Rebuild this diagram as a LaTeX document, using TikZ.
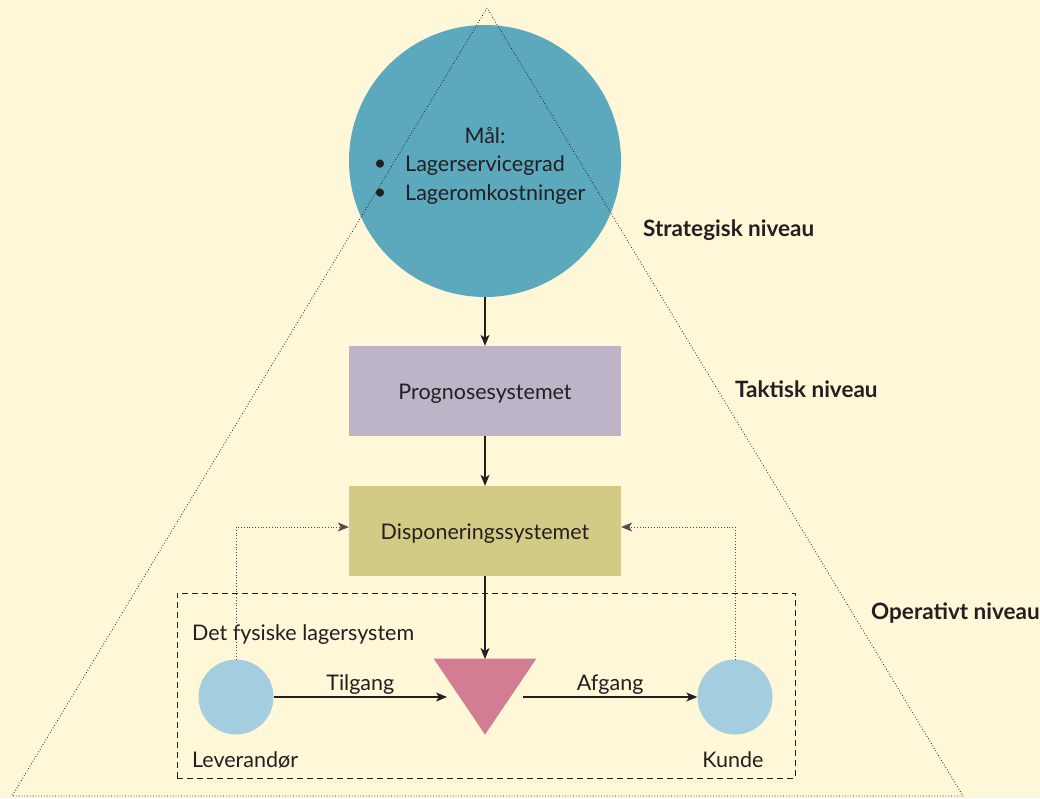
\documentclass[tikz,border=0pt]{standalone}
\usepackage{fontspec}
\setmainfont{Lato}
\usetikzlibrary{arrows.meta,shapes.geometric}
\definecolor{bgc}{HTML}{FEF7D8}
\definecolor{bigc}{HTML}{5CA8BC}
\definecolor{progc}{HTML}{BEB4C8}
\definecolor{dispc}{HTML}{D3CB85}
\definecolor{pinkc}{HTML}{D37D92}
\definecolor{smallc}{HTML}{A5CDE0}
\definecolor{txt}{HTML}{231F20}
\begin{document}
\begin{tikzpicture}[x=1pt,y=-1pt,
  lbl/.style={text=txt,font=\fontsize{21.5}{24}\selectfont,inner sep=0pt,yshift=-2.5pt},
  lvl/.style={text=txt,font=\fontsize{22.5}{24}\selectfont\bfseries,inner sep=0pt,anchor=west},
  arr/.style={draw=txt,line width=1.1pt,-{Stealth[length=11pt,width=9pt,inset=3pt]}},
  fb/.style={draw=txt!80,line width=0.8pt,dotted,-{Stealth[length=11pt,width=9pt,inset=3pt]}},
  boxs/.style={minimum width=272pt,minimum height=90pt,inner sep=0pt,text=txt,font=\fontsize{21.5}{24}\selectfont,text height=17pt,text depth=0pt}
]
\useasboundingbox (0,0) rectangle (1040,798);
\fill[bgc] (0,0) rectangle (1040,798);
% big goal circle
\node[circle,fill=bigc,minimum size=272pt,inner sep=0pt] (goal) at (485,161) {};
% level triangle (dotted)
\coordinate (apex) at (487,8);
\coordinate (bl) at (12,796);
\coordinate (br) at (963,796);
\draw[txt,line width=0.8pt,dotted] (apex) -- (bl) -- (br) -- cycle;
% goal texts
\node[lbl] (maal) at (485,133) {Mål:};
\node[lbl] (b1) at (380,163) {•};
\node[lbl] (b2) at (380,192) {•};
\node[lbl,anchor=west] (g1) at (405,163) {Lagerservicegrad};
\node[lbl,anchor=west] (g2) at (405,192) {Lageromkostninger};
% boxes
\node[boxs,fill=progc] (prog) at (485,391) {Prognosesystemet};
\node[boxs,fill=dispc] (disp) at (485,531) {Disponeringssystemet};
% physical system frame
\node[draw=txt,dashed,dash pattern=on 6pt off 4pt,line width=0.9pt,minimum width=618pt,minimum height=185pt,inner sep=0pt] (frame) at (486,685.5) {};
\node[lbl,anchor=west] (fys) at (192,632) {Det fysiske lagersystem};
% stock triangle
\node[isosceles triangle,isosceles triangle apex angle=68,shape border rotate=-90,fill=pinkc,minimum height=76pt,inner sep=0pt,anchor=apex] (lager) at (485,735) {};
% supplier and customer
\node[circle,fill=smallc,minimum size=75pt,inner sep=0pt] (lev) at (236,697) {};
\node[circle,fill=smallc,minimum size=75pt,inner sep=0pt] (kunde) at (735,697) {};
\node[lbl,anchor=west] (levl) at (192,757) {Leverandør};
\node[lbl] (kundel) at (733,757) {Kunde};
% arrows
\draw[arr] (goal.south) -- (prog.north);
\draw[arr] (prog.south) -- (disp.north);
\coordinate (ltop) at (485,659);
\draw[arr] (disp.south) -- (ltop);
\coordinate (tin) at (447,697);
\coordinate (tout) at (523,697);
\draw[arr] (lev.east) -- node[lbl,above=5pt] (tilg) {Tilgang} (tin);
\draw[arr] (tout) -- node[lbl,above=5pt] (afg) {Afgang} (kunde.west);
% feedback dotted
\draw[fb] (lev.north) |- (disp.west |- 0,527);
\draw[fb] (kunde.north) |- (disp.east |- 0,527);
% level labels
\node[lvl] (strat) at (643,230) {Strategisk niveau};
\node[lvl] (takt) at (735,389) {Taktisk niveau};
\node[lvl] (oper) at (871,613) {Operativt niveau};
\end{tikzpicture}
\end{document}
